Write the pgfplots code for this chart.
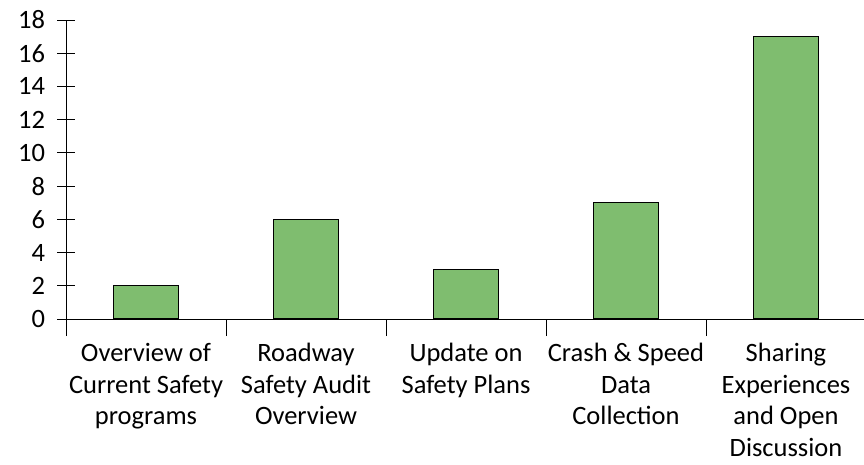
\documentclass[border=0pt]{standalone}
\usepackage{fontspec}
\setmainfont{Carlito}
\usepackage{pgfplots}
\pgfplotsset{compat=1.18}
\definecolor{bargreen}{RGB}{127,189,111}
\begin{document}
\begin{tikzpicture}
\begin{axis}[
  scale only axis,
  width=800pt, height=299pt,
  at={(0pt,0pt)}, anchor=south west,
  xmin=-0.5, xmax=4.5,
  ymin=0, ymax=18,
  axis lines=left,
  axis line style={-, black, line width=0.8pt},
  ytick={0,2,...,18},
  xtick={-0.5,0.5,1.5,2.5,3.5,4.5},
  xticklabels={},
  extra x ticks={0,1,2,3,4},
  extra x tick labels={Overview of\\Current Safety\\programs, Roadway\\Safety Audit\\Overview, Update on\\Safety Plans, Crash \& Speed\\Data\\Collection, Sharing\\Experiences\\and Open\\Discussion},
  extra x tick style={major tick length=0pt},
  tick align=center,
  major tick length=17pt,
  tick style={black, line width=0.8pt},
  /pgf/number format/assume math mode=true,
  tick label style={font=\fontsize{26.5}{31.5}\selectfont, black},
  xticklabel style={align=center, yshift=-21pt},
  yticklabel style={xshift=-9pt},
  ybar, bar width=65pt,
  enlargelimits=false,
  clip=false,
]
\addplot[fill=bargreen, draw=black, line width=1.2pt] coordinates {(0,2) (1,6) (2,3) (3,7) (4,17)};
\end{axis}
\pgfresetboundingbox
\path[use as bounding box] (-66pt,-145pt) rectangle (798pt,319pt);
\end{tikzpicture}
\end{document}
